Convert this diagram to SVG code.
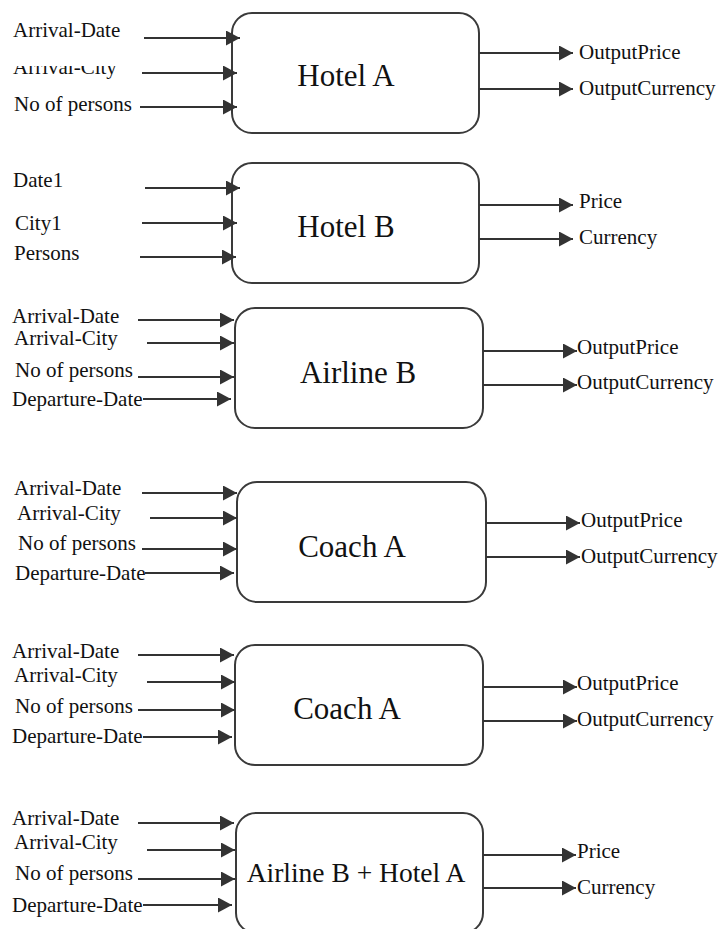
<svg xmlns="http://www.w3.org/2000/svg" width="718" height="929" viewBox="0 0 718 929">
  <style>
    .box { fill: #ffffff; stroke: #3a3a3a; stroke-width: 2; }
    .wire { fill: none; stroke: #333333; stroke-width: 2; marker-end: url(#arrow); }
    text { font-family: 'Liberation Serif', 'Times New Roman', serif; fill: #111111; }
    .lbl { font-size: 21px; }
    .title { font-size: 31px; text-anchor: middle; }
    .title-sm { font-size: 27.5px; text-anchor: middle; }
  </style>
  <defs>
    <marker id="arrow" markerUnits="userSpaceOnUse" markerWidth="15" markerHeight="15" refX="14" refY="7.5" orient="auto">
      <path d="M0,0 L14,7.5 L0,15 z" fill="#333333"/>
    </marker>
    <clipPath id="cityClip">
      <rect x="0" y="66" width="200" height="20"/>
    </clipPath>
  </defs>

  <rect width="718" height="929" fill="#ffffff"/>

  <!-- service boxes -->
  <g id="hotel-a">
    <rect class="box" x="232" y="13" width="247" height="120" rx="20"/>
    <text class="title" x="346" y="86">Hotel A</text>
    <text class="lbl" x="13" y="37">Arrival-Date</text>
    <text class="lbl" x="13" y="74" clip-path="url(#cityClip)">Arrival-City</text>
    <text class="lbl" x="14" y="111">No of persons</text>
    <text class="lbl" x="579" y="59">OutputPrice</text>
    <text class="lbl" x="579" y="95">OutputCurrency</text>
  </g>

  <g id="hotel-b">
    <rect class="box" x="232" y="163" width="247" height="120" rx="20"/>
    <text class="title" x="346" y="237">Hotel B</text>
    <text class="lbl" x="13" y="187">Date1</text>
    <text class="lbl" x="15" y="230">City1</text>
    <text class="lbl" x="14" y="260">Persons</text>
    <text class="lbl" x="579" y="208">Price</text>
    <text class="lbl" x="579" y="244">Currency</text>
  </g>

  <g id="airline-b">
    <rect class="box" x="235" y="308" width="248" height="120" rx="20"/>
    <text class="title" x="358" y="383">Airline B</text>
    <text class="lbl" x="12" y="323">Arrival-Date</text>
    <text class="lbl" x="14" y="345">Arrival-City</text>
    <text class="lbl" x="15" y="377">No of persons</text>
    <text class="lbl" x="12" y="406">Departure-Date</text>
    <text class="lbl" x="577" y="354">OutputPrice</text>
    <text class="lbl" x="577" y="389">OutputCurrency</text>
  </g>

  <g id="coach-a-1">
    <rect class="box" x="237" y="482" width="249" height="120" rx="20"/>
    <text class="title" x="352" y="557">Coach A</text>
    <text class="lbl" x="14" y="495">Arrival-Date</text>
    <text class="lbl" x="17" y="520">Arrival-City</text>
    <text class="lbl" x="18" y="550">No of persons</text>
    <text class="lbl" x="15" y="580">Departure-Date</text>
    <text class="lbl" x="581" y="527">OutputPrice</text>
    <text class="lbl" x="581" y="563">OutputCurrency</text>
  </g>

  <g id="coach-a-2">
    <rect class="box" x="235" y="645" width="248" height="120" rx="20"/>
    <text class="title" x="347" y="719">Coach A</text>
    <text class="lbl" x="12" y="658">Arrival-Date</text>
    <text class="lbl" x="14" y="682">Arrival-City</text>
    <text class="lbl" x="15" y="713">No of persons</text>
    <text class="lbl" x="12" y="743">Departure-Date</text>
    <text class="lbl" x="577" y="690">OutputPrice</text>
    <text class="lbl" x="577" y="726">OutputCurrency</text>
  </g>

  <g id="airline-b-hotel-a">
    <rect class="box" x="236" y="813" width="247" height="120" rx="20"/>
    <text class="title-sm" x="356" y="882">Airline B + Hotel A</text>
    <text class="lbl" x="12" y="825">Arrival-Date</text>
    <text class="lbl" x="14" y="849">Arrival-City</text>
    <text class="lbl" x="15" y="880">No of persons</text>
    <text class="lbl" x="12" y="912">Departure-Date</text>
    <text class="lbl" x="577" y="858">Price</text>
    <text class="lbl" x="577" y="894">Currency</text>
  </g>

  <!-- connectors -->
  <g id="connectors">
    <!-- Hotel A -->
    <line class="wire" x1="144" y1="38" x2="240" y2="38"/>
    <line class="wire" x1="142" y1="73" x2="237" y2="73"/>
    <line class="wire" x1="140" y1="107" x2="237" y2="107"/>
    <line class="wire" x1="479" y1="53" x2="573" y2="53"/>
    <line class="wire" x1="479" y1="89" x2="573" y2="89"/>
    <!-- Hotel B -->
    <line class="wire" x1="145" y1="188" x2="240" y2="188"/>
    <line class="wire" x1="142" y1="223" x2="237" y2="223"/>
    <line class="wire" x1="140" y1="257" x2="236" y2="257"/>
    <line class="wire" x1="479" y1="205" x2="573" y2="205"/>
    <line class="wire" x1="479" y1="239" x2="573" y2="239"/>
    <!-- Airline B -->
    <line class="wire" x1="138" y1="320" x2="234" y2="320"/>
    <line class="wire" x1="147" y1="343" x2="234" y2="343"/>
    <line class="wire" x1="138" y1="377" x2="234" y2="377"/>
    <line class="wire" x1="143" y1="399" x2="231" y2="399"/>
    <line class="wire" x1="483" y1="351" x2="577" y2="351"/>
    <line class="wire" x1="483" y1="385" x2="577" y2="385"/>
    <!-- Coach A (first) -->
    <line class="wire" x1="142" y1="493" x2="237" y2="493"/>
    <line class="wire" x1="150" y1="518" x2="237" y2="518"/>
    <line class="wire" x1="142" y1="549" x2="237" y2="549"/>
    <line class="wire" x1="145" y1="573" x2="234" y2="573"/>
    <line class="wire" x1="486" y1="523" x2="580" y2="523"/>
    <line class="wire" x1="486" y1="557" x2="580" y2="557"/>
    <!-- Coach A (second) -->
    <line class="wire" x1="138" y1="655" x2="234" y2="655"/>
    <line class="wire" x1="147" y1="682" x2="235" y2="682"/>
    <line class="wire" x1="138" y1="710" x2="235" y2="710"/>
    <line class="wire" x1="143" y1="737" x2="232" y2="737"/>
    <line class="wire" x1="483" y1="687" x2="577" y2="687"/>
    <line class="wire" x1="483" y1="721" x2="577" y2="721"/>
    <!-- Airline B + Hotel A -->
    <line class="wire" x1="138" y1="823" x2="234" y2="823"/>
    <line class="wire" x1="147" y1="850" x2="235" y2="850"/>
    <line class="wire" x1="138" y1="879" x2="235" y2="879"/>
    <line class="wire" x1="143" y1="905" x2="232" y2="905"/>
    <line class="wire" x1="483" y1="855" x2="576" y2="855"/>
    <line class="wire" x1="483" y1="888" x2="576" y2="888"/>
  </g>
</svg>
